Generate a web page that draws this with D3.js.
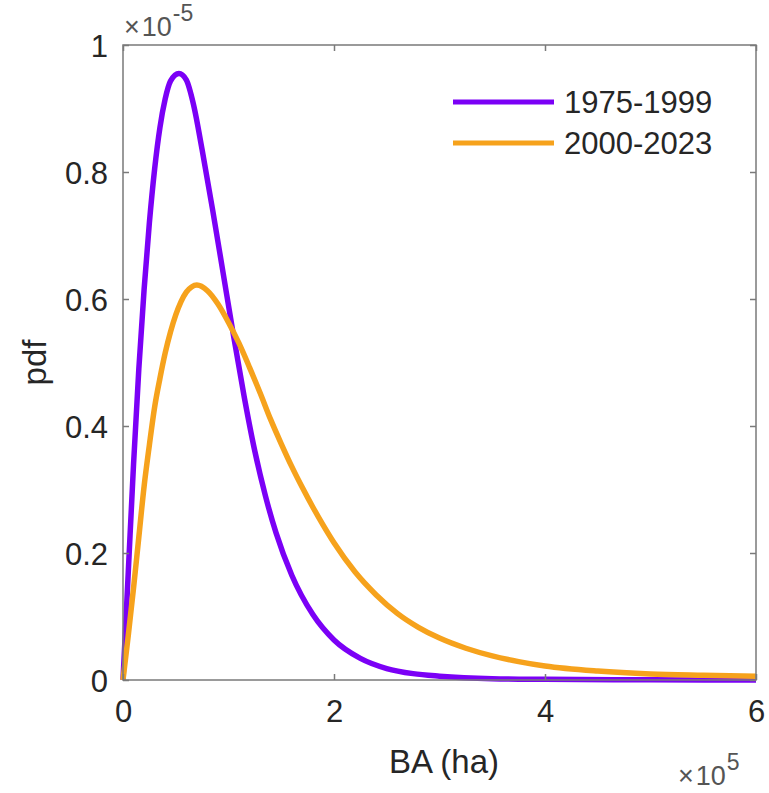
<!DOCTYPE html>
<html>
<head>
<meta charset="utf-8">
<script src="https://cdn.jsdelivr.net/npm/d3@7"></script>
<style>
  body { margin: 0; background: #fff; }
  text { font-family: "Liberation Sans", Arial, sans-serif; }
</style>
</head>
<body>
<div id="container"></div>
<script>
// values (x in 1e5 ha, pdf in 1e-5)
const seriesNames = ["1975-1999", "2000-2023"];
const seriesColors = ["#7b00f6", "#f6a21c"];

const xEarly = [0, 0.05, 0.1, 0.15, 0.2, 0.25, 0.3, 0.35, 0.4, 0.45, 0.53, 0.6, 0.67, 0.75, 0.85, 0.95, 1.05, 1.15, 1.25, 1.35, 1.45, 1.6, 1.8, 2.0, 2.25, 2.5, 2.75, 3.0, 3.5, 4.0, 5.0, 6.0];
const yEarly = [0, 0.17, 0.34, 0.49, 0.615, 0.72, 0.805, 0.87, 0.915, 0.943, 0.955, 0.945, 0.905, 0.835, 0.74, 0.64, 0.54, 0.445, 0.36, 0.29, 0.232, 0.165, 0.103, 0.063, 0.034, 0.018, 0.01, 0.006, 0.002, 0.001, 0.0002, 0];

const xLate = [0, 0.05, 0.1, 0.15, 0.2, 0.25, 0.3, 0.35, 0.4, 0.45, 0.5, 0.55, 0.6, 0.65, 0.7, 0.8, 0.9, 1.0, 1.1, 1.2, 1.3, 1.4, 1.5, 1.6, 1.7, 1.8, 1.9, 2.0, 2.2, 2.4, 2.6, 2.8, 3.0, 3.25, 3.5, 3.75, 4.0, 4.5, 5.0, 5.5, 6.0];
const yLate = [0, 0.07, 0.145, 0.225, 0.305, 0.37, 0.43, 0.475, 0.515, 0.548, 0.575, 0.596, 0.611, 0.619, 0.622, 0.613, 0.592, 0.563, 0.53, 0.492, 0.452, 0.41, 0.372, 0.336, 0.303, 0.272, 0.243, 0.216, 0.17, 0.134, 0.105, 0.083, 0.066, 0.05, 0.038, 0.029, 0.022, 0.014, 0.0095, 0.0075, 0.006];

const xTicks = [0, 2, 4, 6];
const yTicks = [0, 0.2, 0.4, 0.6, 0.8, 1];

const width = 769, height = 793;
const plotLeft = 123, plotRight = 756, plotTop = 45, plotBottom = 680;

const svg = d3.select("#container").append("svg")
    .attr("width", width)
    .attr("height", height);

const x = d3.scaleLinear().domain([0, 6]).range([plotLeft, plotRight]);
const y = d3.scaleLinear().domain([0, 1]).range([plotBottom, plotTop]);

const axisColor = "#7a7a7a";
const textColor = "#262626";

// curves
const line = d3.line()
    .x(d => x(d[0]))
    .y(d => y(d[1]))
    .curve(d3.curveMonotoneX);

const data = [d3.zip(xEarly, yEarly), d3.zip(xLate, yLate)];

svg.selectAll(".curve")
    .data(data)
    .join("path")
    .attr("class", "curve")
    .attr("d", line)
    .attr("fill", "none")
    .attr("stroke", (d, i) => seriesColors[i])
    .attr("stroke-width", 5.5)
    .attr("stroke-linejoin", "round");

// box
svg.append("rect")
    .attr("x", plotLeft)
    .attr("y", plotTop)
    .attr("width", plotRight - plotLeft)
    .attr("height", plotBottom - plotTop)
    .attr("fill", "none")
    .attr("stroke", axisColor)
    .attr("stroke-width", 1.5);

// bottom axis
const xAxis = svg.append("g")
    .attr("transform", `translate(0,${plotBottom})`)
    .call(d3.axisBottom(x).tickValues(xTicks).tickSizeInner(-6).tickSizeOuter(0).tickPadding(20)
        .tickFormat(d3.format("d")));
xAxis.select(".domain").remove();

// top ticks
const xTop = svg.append("g")
    .attr("transform", `translate(0,${plotTop})`)
    .call(d3.axisTop(x).tickValues(xTicks).tickSizeInner(-6).tickSizeOuter(0).tickFormat(""));
xTop.select(".domain").remove();

// left axis
const yAxis = svg.append("g")
    .attr("transform", `translate(${plotLeft},0)`)
    .call(d3.axisLeft(y).tickValues(yTicks).tickSizeInner(-6).tickSizeOuter(0).tickPadding(15)
        .tickFormat(d => d === 0 || d === 1 ? d3.format("d")(d) : d3.format(".1f")(d)));
yAxis.select(".domain").remove();

// right ticks
const yRight = svg.append("g")
    .attr("transform", `translate(${plotRight},0)`)
    .call(d3.axisRight(y).tickValues(yTicks).tickSizeInner(-6).tickSizeOuter(0).tickFormat(""));
yRight.select(".domain").remove();

svg.selectAll(".tick line").attr("stroke", axisColor).attr("stroke-width", 1.5);
svg.selectAll(".tick text")
    .attr("fill", textColor)
    .style("font-size", "31px")
    .style("font-family", "Liberation Sans, Arial, sans-serif");
xAxis.selectAll(".tick text").attr("dy", "0.71em");
yAxis.selectAll(".tick text").attr("dy", "0.36em");

// exponent labels
const expTop = svg.append("text")
    .attr("x", 124)
    .attr("y", 36)
    .attr("fill", "#555")
    .style("font-size", "27px");
expTop.append("tspan").text("\u00d7");
expTop.append("tspan").attr("dx", 2).text("10");
expTop.append("tspan").attr("dy", -15).attr("dx", 1).style("font-size", "23px").text("-5");

const expBottom = svg.append("text")
    .attr("x", 678)
    .attr("y", 785)
    .attr("fill", "#555")
    .style("font-size", "27px");
expBottom.append("tspan").text("\u00d7");
expBottom.append("tspan").attr("dx", 2).text("10");
expBottom.append("tspan").attr("dy", -15).attr("dx", 1).style("font-size", "23px").text("5");

// axis titles
svg.append("text")
    .attr("x", 444)
    .attr("y", 773)
    .attr("text-anchor", "middle")
    .attr("fill", textColor)
    .style("font-size", "33px")
    .text("BA (ha)");

svg.append("text")
    .attr("transform", `translate(46,${(plotTop + plotBottom) / 2}) rotate(-90)`)
    .attr("text-anchor", "middle")
    .attr("fill", textColor)
    .style("font-size", "33px")
    .text("pdf");

// legend
const legend = svg.append("g");
seriesNames.forEach((name, i) => {
    const ly = 102 + i * 41;
    legend.append("line")
        .attr("x1", 453).attr("x2", 554)
        .attr("y1", ly).attr("y2", ly)
        .attr("stroke", seriesColors[i])
        .attr("stroke-width", 5);
    legend.append("text")
        .attr("x", 564)
        .attr("y", ly + 11)
        .attr("fill", textColor)
        .style("font-size", "31px")
        .text(name);
});
</script>
</body>
</html>
